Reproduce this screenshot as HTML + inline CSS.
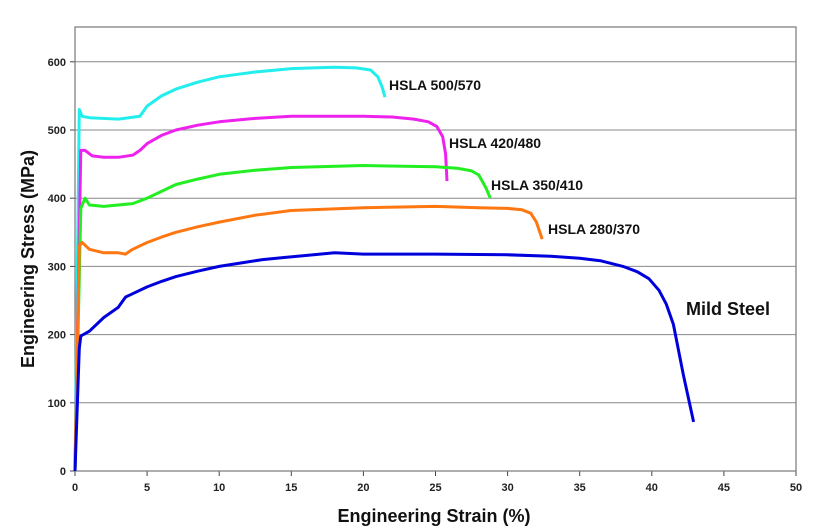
<!DOCTYPE html>
<html><head><meta charset="utf-8"><style>
body{margin:0;background:#fff;}
svg{display:block;font-family:"Liberation Sans",Arial,sans-serif;}
</style></head><body>
<svg id="chart" width="822" height="532"></svg>
<script>
const xTicks=[0,5,10,15,20,25,30,35,40,45,50];
const yTicks=[0,100,200,300,400,500,600];
const mildX=[0,0.3,0.4,1,2,3,3.5,4,5,6,7,8.5,10,11.5,13,14.5,16,18,20,25,30,33,35,36.5,38,39,39.8,40.5,41,41.5,42.2,42.9];
const mildY=[0,180,198,205,225,240,255,260,270,278,285,293,300,305,310,313,316,320,318,318,317,315,312,308,300,292,282,265,245,215,140,72];
const h280X=[0,0.3,0.5,1,2,3,3.5,4,5,6,7,8.5,10,12.5,15,17.5,20,25,28,30,31,31.6,32,32.4];
const h280Y=[0,330,335,325,320,320,318,325,335,343,350,358,365,375,382,384,386,388,386,385,383,378,365,340];
const h350X=[0,0.4,0.7,1,2,3,4,5,6,7,8.5,10,12.5,15,20,25,26.5,27.5,28,28.5,28.8];
const h350Y=[0,385,400,390,388,390,392,400,410,420,428,435,441,445,448,446,444,440,434,415,400];
const h420X=[0,0.4,0.7,1.2,2,3,4,4.5,5,6,7,8.5,10,12.5,15,20,22,23.5,24.5,25.1,25.5,25.7,25.8];
const h420Y=[0,470,470,462,460,460,463,470,480,492,500,507,512,517,520,520,519,516,512,505,490,465,425];
const h500X=[0,0.3,0.5,1,3,4.5,5,6,7,8.5,10,12.5,15,16.5,18,19.5,20.5,21,21.3,21.5];
const h500Y=[0,530,520,518,516,520,535,550,560,570,578,585,590,591,592,591,588,578,563,548];
const seriesNames=["HSLA 500/570","HSLA 420/480","HSLA 350/410","HSLA 280/370","Mild Steel"];

const L=75,R=796,T=27,B=471;
const sx=v=>L+(v/50)*(R-L);
const sy=v=>B-(v/651)*(B-T);
const svg=document.getElementById('chart');
const NS='http://www.w3.org/2000/svg';
function mk(tag,attrs,parent){const e=document.createElementNS(NS,tag);for(const k in attrs)e.setAttribute(k,attrs[k]);(parent||svg).appendChild(e);return e;}

yTicks.forEach(v=>{
  if(v>0){const g=mk('line',{x1:L,x2:R,y1:sy(v),y2:sy(v),stroke:'#888','stroke-width':1});
  
  }
  const tk=mk('line',{x1:L-5,x2:L,y1:sy(v),y2:sy(v),stroke:'#444'});
  
  
  const t=mk('text',{x:L-9,y:sy(v)+4,'text-anchor':'end','font-size':11,'font-weight':'bold',fill:'#222'});
  t.textContent=v;
  
  
});
xTicks.forEach(v=>{
  const tk=mk('line',{x1:sx(v),x2:sx(v),y1:B,y2:B+5,stroke:'#444'});
  
  
  const t=mk('text',{x:sx(v),y:B+20,'text-anchor':'middle','font-size':11,'font-weight':'bold',fill:'#222'});
  t.textContent=v;
  
  
});
const frame=mk('rect',{x:L,y:T,width:R-L,height:B-T,fill:'none',stroke:'#777','stroke-width':1.2});



const series=[[h500X,h500Y,'#22eeee'],[h420X,h420Y,'#ee22ee'],[h350X,h350Y,'#22ee22'],[h280X,h280Y,'#ff7711'],[mildX,mildY,'#0000dd']];
const labelPos=[[389,90],[449,148],[491,190],[548,234],[686,315]];
series.forEach((s,i)=>{
  const d=s[0].map((x,j)=>(j?'L':'M')+sx(x).toFixed(1)+','+sy(s[1][j]).toFixed(1)).join('');
  const p=mk('path',{d:d,fill:'none',stroke:s[2],'stroke-width':3,'stroke-linejoin':'round'});
  
  
  const isMild=i===4;
  const t=mk('text',{x:labelPos[i][0],y:labelPos[i][1],'font-size':isMild?18:14,'font-weight':'bold',fill:'#111'});
  t.textContent=seriesNames[i];
  
  
});
const xt=mk('text',{x:434,y:522,'text-anchor':'middle','font-size':18,'font-weight':'bold',fill:'#111'});
xt.textContent='Engineering Strain (%)';


const yt=mk('text',{x:0,y:0,'text-anchor':'middle','font-size':18,'font-weight':'bold',fill:'#111',transform:'translate(34,'+((T+B)/2+10)+') rotate(-90)'});
yt.textContent='Engineering Stress (MPa)';


</script>
</body></html>
